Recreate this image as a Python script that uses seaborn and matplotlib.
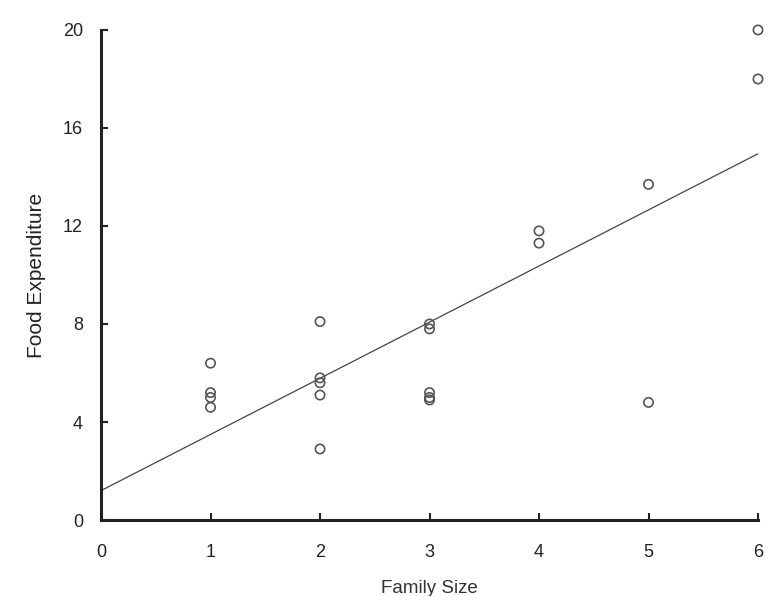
import matplotlib
matplotlib.use("Agg")
import matplotlib.pyplot as plt
import seaborn as sns
import pandas as pd

# Family size vs. weekly food expenditure
family_size = [1, 1, 1, 1,
               2, 2, 2, 2, 2,
               3, 3, 3, 3, 3,
               4, 4,
               5, 5,
               6, 6]
food_expenditure = [6.4, 5.2, 5.0, 4.6,
                    8.1, 5.8, 5.6, 5.1, 2.9,
                    8.0, 7.8, 5.2, 5.0, 4.9,
                    11.8, 11.3,
                    13.7, 4.8,
                    20.0, 18.0]
x_ticks = [0, 1, 2, 3, 4, 5, 6]
y_ticks = [0, 4, 8, 12, 16, 20]

df = pd.DataFrame({"Family Size": family_size, "Food Expenditure": food_expenditure})

sns.set_style("ticks")
plt.rcParams["font.family"] = ["Liberation Sans", "DejaVu Sans"]

fig = plt.figure(figsize=(7.73, 5.96), dpi=100)
ax = fig.add_axes([0.1307, 0.1275, 0.8499, 0.8222])
ax.set_xlim(0, 6)
ax.set_ylim(0, 20)

# fitted least-squares line across the full x range
sns.regplot(data=df, x="Family Size", y="Food Expenditure", ax=ax,
            scatter=False, ci=None, truncate=False,
            line_kws=dict(color="#444444", lw=0.9))

sns.scatterplot(data=df, x="Family Size", y="Food Expenditure", ax=ax,
                marker="o", s=45, facecolor="none", edgecolor="#555555",
                linewidth=1.2, clip_on=False, zorder=3)

ax.set_xlim(0, 6)
ax.set_ylim(0, 20)
ax.set_xticks(x_ticks)
ax.set_yticks(y_ticks)

for side in ("top", "right"):
    ax.spines[side].set_visible(False)
for side in ("left", "bottom"):
    ax.spines[side].set_linewidth(2.2)
    ax.spines[side].set_color("#222222")

ax.tick_params(axis="both", direction="in", length=5, width=1.5,
               colors="#222222", labelsize=13)
ax.tick_params(axis="x", pad=17)
ax.tick_params(axis="y", pad=13)

ax.set_xlabel("Family Size", fontsize=13.5, color="#333333", labelpad=14)
ax.set_ylabel("Food Expenditure", fontsize=15, color="#222222", labelpad=12)

fig.savefig("out.png", dpi=100)
